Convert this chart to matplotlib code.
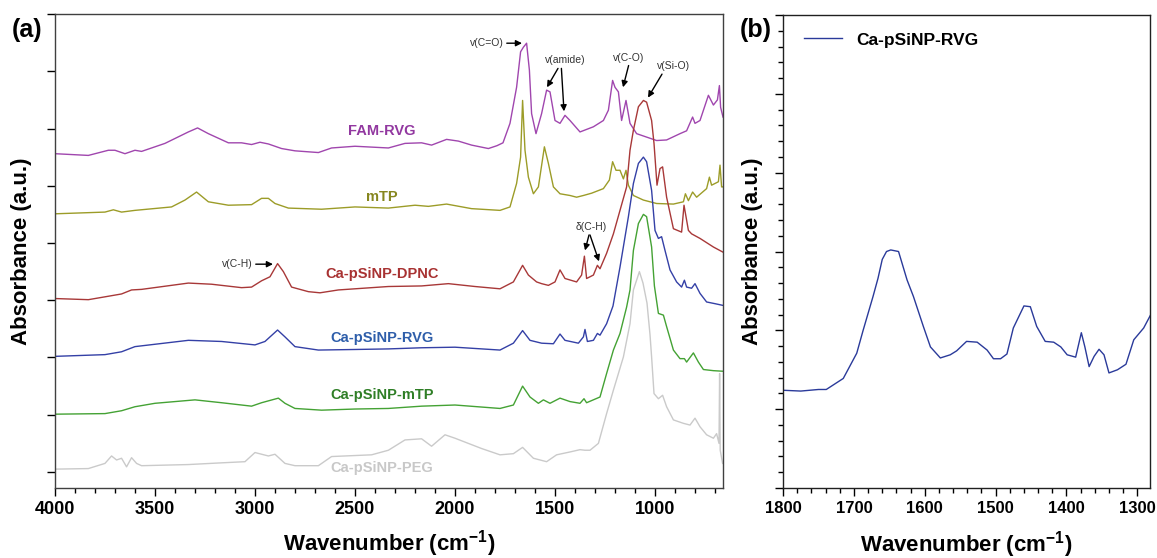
import matplotlib
matplotlib.use('Agg')
import matplotlib.pyplot as plt
from matplotlib.ticker import MultipleLocator, NullFormatter

plt.rcParams['font.family'] = ['Liberation Sans', 'DejaVu Sans']
plt.rcParams['mathtext.fontset'] = 'custom'
plt.rcParams['mathtext.rm'] = 'Liberation Sans'
plt.rcParams['mathtext.bf'] = 'Liberation Sans:bold'
plt.rcParams['mathtext.default'] = 'bf'

# --- data (a): FTIR spectra, stacked with offsets (a.u.) ---
fam_rvg_wn = [4000, 3833, 3733, 3700, 3650, 3600, 3567, 3450, 3333, 3287, 3233, 3133, 3067, 3017, 2975, 2933,
              2867, 2800, 2683, 2617, 2500, 2333, 2250, 2167, 2117, 2042, 1983, 1917, 1833, 1790, 1760, 1725,
              1692, 1672, 1658, 1642, 1628, 1617, 1595, 1567, 1542, 1525, 1500, 1475, 1450, 1425, 1375, 1308,
              1258, 1233, 1212, 1200, 1183, 1167, 1145, 1125, 1092, 1042, 992, 942, 875, 842, 812, 800, 775,
              733, 708, 688, 678, 672, 660]
fam_rvg_abs = [5.56, 5.53, 5.62, 5.62, 5.56, 5.62, 5.60, 5.74, 5.94, 6.01, 5.91, 5.75, 5.75, 5.72, 5.76, 5.73,
               5.65, 5.61, 5.58, 5.66, 5.69, 5.66, 5.74, 5.75, 5.71, 5.81, 5.78, 5.71, 5.65, 5.70, 5.75, 6.09,
               6.72, 7.34, 7.42, 7.49, 7.02, 6.26, 5.91, 6.26, 6.67, 6.64, 6.14, 6.09, 6.23, 6.14, 5.94, 6.03,
               6.14, 6.32, 6.84, 6.72, 6.64, 6.14, 6.49, 6.09, 5.91, 5.85, 5.79, 5.80, 5.91, 5.96, 6.20, 6.09, 6.14,
               6.58, 6.41, 6.50, 6.75, 6.37, 6.20]

mtp_wn = [4000, 3750, 3708, 3667, 3600, 3417, 3350, 3292, 3233, 3133, 3017, 2967, 2933, 2900, 2833, 2667,
          2500, 2333, 2200, 2133, 2042, 1917, 1775, 1725, 1692, 1672, 1662, 1650, 1633, 1608, 1583, 1553,
          1533, 1508, 1475, 1425, 1392, 1358, 1317, 1258, 1228, 1212, 1195, 1175, 1158, 1145, 1133, 1108,
          1058, 992, 908, 858, 848, 833, 812, 792, 742, 728, 717, 683, 675, 667, 660]
mtp_abs = [4.51, 4.54, 4.58, 4.54, 4.57, 4.63, 4.75, 4.89, 4.72, 4.66, 4.67, 4.78, 4.78, 4.69, 4.61, 4.59,
           4.63, 4.61, 4.66, 4.64, 4.68, 4.60, 4.57, 4.63, 5.04, 5.50, 6.49, 5.62, 5.15, 4.86, 4.98, 5.68,
           5.39, 4.98, 4.86, 4.83, 4.80, 4.83, 4.87, 4.95, 5.10, 5.42, 5.27, 5.27, 5.12, 5.27, 5.01, 4.83,
           4.75, 4.69, 4.68, 4.72, 4.86, 4.74, 4.89, 4.80, 4.95, 5.15, 5.01, 5.07, 5.36, 4.98, 4.98]

dpnc_wn = [4000, 3833, 3733, 3667, 3617, 3567, 3333, 3217, 3067, 3017, 2967, 2925, 2887, 2858, 2817, 2733,
           2675, 2583, 2333, 2167, 2033, 1900, 1775, 1708, 1662, 1633, 1592, 1567, 1533, 1500, 1475, 1450,
           1392, 1367, 1353, 1342, 1308, 1288, 1275, 1242, 1208, 1175, 1142, 1125, 1108, 1083, 1058, 1042,
           1017, 1005, 990, 975, 962, 942, 908, 867, 855, 833, 817, 775, 708, 660]
dpnc_abs = [3.03, 3.01, 3.07, 3.11, 3.18, 3.19, 3.30, 3.28, 3.22, 3.23, 3.34, 3.41, 3.64, 3.50, 3.23, 3.15,
            3.13, 3.18, 3.24, 3.25, 3.29, 3.24, 3.20, 3.32, 3.61, 3.44, 3.32, 3.29, 3.26, 3.32, 3.53, 3.38,
            3.32, 3.44, 3.77, 3.38, 3.44, 3.61, 3.55, 3.82, 4.16, 4.57, 4.98, 5.62, 5.97, 6.38, 6.49, 6.46,
            6.14, 5.74, 5.01, 5.30, 5.33, 4.80, 4.25, 4.19, 4.66, 4.22, 4.16, 4.08, 3.93, 3.84]

rvg_wn = [4000, 3750, 3667, 3600, 3333, 3167, 3000, 2950, 2887, 2850, 2800, 2683, 2500, 2333, 2167, 2000,
          1775, 1708, 1662, 1625, 1567, 1508, 1475, 1450, 1383, 1358, 1350, 1338, 1308, 1288, 1275, 1242,
          1210, 1175, 1133, 1108, 1083, 1058, 1042, 1017, 1000, 983, 967, 950, 925, 892, 867, 853, 842,
          817, 800, 775, 742, 700, 660]
rvg_abs = [2.02, 2.05, 2.10, 2.19, 2.30, 2.28, 2.22, 2.28, 2.48, 2.36, 2.19, 2.13, 2.14, 2.15, 2.17, 2.18,
           2.13, 2.25, 2.47, 2.30, 2.25, 2.24, 2.41, 2.30, 2.25, 2.36, 2.49, 2.28, 2.30, 2.42, 2.39, 2.59,
           2.90, 3.58, 4.46, 5.04, 5.39, 5.50, 5.42, 4.92, 4.22, 4.08, 4.11, 3.87, 3.53, 3.32, 3.23, 3.35, 3.23,
           3.21, 3.29, 3.12, 2.97, 2.94, 2.91]

cmtp_wn = [4000, 3750, 3667, 3600, 3500, 3300, 3167, 3017, 2967, 2883, 2850, 2800, 2667, 2500, 2333, 2167,
           2000, 1775, 1708, 1662, 1625, 1583, 1558, 1525, 1475, 1425, 1375, 1355, 1342, 1275, 1242, 1208,
           1175, 1142, 1125, 1108, 1083, 1058, 1042, 1017, 1003, 983, 958, 942, 908, 875, 853, 842, 808,
           783, 758, 708, 660]
cmtp_abs = [1.01, 1.02, 1.07, 1.14, 1.20, 1.26, 1.21, 1.15, 1.21, 1.29, 1.20, 1.11, 1.08, 1.10, 1.11, 1.15,
            1.17, 1.11, 1.17, 1.50, 1.31, 1.20, 1.26, 1.20, 1.29, 1.23, 1.20, 1.28, 1.21, 1.31, 1.72, 2.13,
            2.42, 2.88, 3.18, 3.87, 4.34, 4.50, 4.46, 3.93, 3.25, 2.77, 2.74, 2.54, 2.13, 1.98, 1.98, 1.92, 2.08,
            1.92, 1.79, 1.77, 1.76]

peg_wn = [4000, 3833, 3750, 3717, 3692, 3667, 3642, 3617, 3592, 3567, 3333, 3167, 3050, 3000, 2933, 2900,
          2850, 2800, 2683, 2617, 2417, 2333, 2250, 2167, 2117, 2050, 2000, 1867, 1775, 1708, 1662, 1608,
          1542, 1492, 1425, 1375, 1350, 1325, 1283, 1242, 1208, 1158, 1125, 1108, 1078, 1060, 1040, 1025,
          1017, 1005, 983, 962, 942, 908, 858, 825, 800, 775, 742, 708, 692, 680, 677, 674, 662]
peg_abs = [0.05, 0.06, 0.15, 0.28, 0.21, 0.24, 0.09, 0.25, 0.15, 0.11, 0.13, 0.16, 0.18, 0.34, 0.28, 0.31,
           0.15, 0.11, 0.11, 0.27, 0.30, 0.38, 0.56, 0.58, 0.45, 0.65, 0.59, 0.41, 0.30, 0.32, 0.43, 0.24,
           0.18, 0.30, 0.35, 0.39, 0.38, 0.38, 0.50, 1.02, 1.43, 2.01, 2.59, 3.18, 3.50, 3.30, 2.95, 2.40,
           2.01, 1.37, 1.28, 1.34, 1.14, 0.91, 0.85, 0.82, 0.94, 0.79, 0.65, 0.59, 0.67, 0.50, 1.72, 0.38, 0.15]

# --- data (b): Ca-pSiNP-RVG, 1800-1280 cm-1 ---
b_wn = [1800, 1775, 1750, 1739, 1715, 1696, 1687, 1673, 1666, 1660, 1654, 1648, 1637, 1625, 1616, 1602,
        1592, 1578, 1564, 1555, 1541, 1526, 1512, 1503, 1493, 1484, 1475, 1460, 1451, 1442, 1430, 1418,
        1408, 1399, 1387, 1379, 1374, 1368, 1361, 1354, 1347, 1340, 1328, 1316, 1305, 1291, 1281]
b_abs = [1.24, 1.23, 1.25, 1.25, 1.39, 1.71, 2.00, 2.43, 2.66, 2.90, 3.00, 3.02, 3.00, 2.64, 2.43, 2.05,
         1.79, 1.65, 1.69, 1.74, 1.86, 1.85, 1.75, 1.64, 1.64, 1.70, 2.03, 2.31, 2.30, 2.05, 1.86, 1.85,
         1.79, 1.69, 1.66, 1.97, 1.79, 1.54, 1.67, 1.76, 1.69, 1.46, 1.50, 1.57, 1.88, 2.03, 2.20]

fig = plt.figure(figsize=(11.57, 5.58), dpi=100)
ax_a = fig.add_axes([0.0475, 0.1254, 0.5774, 0.8495])
ax_b = fig.add_axes([0.6768, 0.1254, 0.3172, 0.8477])

lw = 1.0
ax_a.plot(fam_rvg_wn, fam_rvg_abs, color='#A046AE', lw=lw)
ax_a.plot(mtp_wn, mtp_abs, color='#9C9C28', lw=lw)
ax_a.plot(dpnc_wn, dpnc_abs, color='#A83838', lw=lw)
ax_a.plot(rvg_wn, rvg_abs, color='#3440A6', lw=lw)
ax_a.plot(cmtp_wn, cmtp_abs, color='#44A234', lw=lw)
ax_a.plot(peg_wn, peg_abs, color='#CACACA', lw=lw)

lab_x = 2365
ax_a.text(lab_x, 5.95, 'FAM-RVG', color='#9238A0', ha='center', va='center', fontsize=10.5, fontweight='bold')
ax_a.text(lab_x, 4.80, 'mTP', color='#86861E', ha='center', va='center', fontsize=10.5, fontweight='bold')
ax_a.text(lab_x, 3.46, 'Ca-pSiNP-DPNC', color='#A83232', ha='center', va='center', fontsize=10.5, fontweight='bold')
ax_a.text(lab_x, 2.34, 'Ca-pSiNP-RVG', color='#2E5EAA', ha='center', va='center', fontsize=10.5, fontweight='bold')
ax_a.text(lab_x, 1.34, 'Ca-pSiNP-mTP', color='#2F7E26', ha='center', va='center', fontsize=10.5, fontweight='bold')
ax_a.text(lab_x, 0.07, 'Ca-pSiNP-PEG', color='#C8C8C8', ha='center', va='center', fontsize=10.5, fontweight='bold')

arrow = dict(arrowstyle='-|>', color='black', lw=1.0, mutation_scale=9, shrinkA=0, shrinkB=0)
afs = 7.5
ax_a.annotate('v(C=O)', xy=(1665, 7.49), xytext=(1755, 7.49), ha='right', va='center',
              fontsize=afs, color='#333333', arrowprops=arrow)
ax_a.annotate('v(amide)', xy=(1540, 6.72), xytext=(1450, 7.19), ha='center', va='center',
              fontsize=afs, color='#333333')
ax_a.annotate('', xy=(1540, 6.72), xytext=(1485, 7.05), arrowprops=arrow)
ax_a.annotate('', xy=(1455, 6.30), xytext=(1468, 7.05), arrowprops=arrow)
ax_a.annotate('v(C-O)', xy=(1160, 6.72), xytext=(1130, 7.24), ha='center', va='center',
              fontsize=afs, color='#333333')
ax_a.annotate('', xy=(1160, 6.72), xytext=(1132, 7.10), arrowprops=arrow)
ax_a.annotate('v(Si-O)', xy=(1035, 6.54), xytext=(905, 7.09), ha='center', va='center',
              fontsize=afs, color='#333333')
ax_a.annotate('', xy=(1035, 6.54), xytext=(965, 6.95), arrowprops=arrow)
ax_a.annotate('\u03b4(C-H)', xy=(1350, 3.87), xytext=(1320, 4.28), ha='center', va='center',
              fontsize=afs, color='#333333')
ax_a.annotate('', xy=(1350, 3.87), xytext=(1330, 4.14), arrowprops=arrow)
ax_a.annotate('', xy=(1280, 3.68), xytext=(1325, 4.14), arrowprops=arrow)
ax_a.annotate('v(C-H)', xy=(2910, 3.63), xytext=(3010, 3.63), ha='right', va='center',
              fontsize=afs, color='#333333', arrowprops=arrow)

ax_a.set_xlim(4000, 660)
ax_a.set_ylim(-0.28, 8)
ax_a.xaxis.set_major_locator(MultipleLocator(500))
ax_a.xaxis.set_minor_locator(MultipleLocator(100))
ax_a.yaxis.set_major_locator(MultipleLocator(1))
ax_a.yaxis.set_major_formatter(NullFormatter())
ax_a.tick_params(axis='both', which='major', direction='out', length=5.5, width=1, labelsize=13)
ax_a.tick_params(axis='x', which='minor', direction='out', length=3.5, width=1)
for lbl in ax_a.get_xticklabels():
    lbl.set_fontweight('bold')
for s in ax_a.spines.values():
    s.set_color('#404040')
    s.set_linewidth(1.0)
ax_a.set_xlabel('Wavenumber (cm$^{-1}$)', fontsize=16, fontweight='bold')
ax_a.set_ylabel('Absorbance (a.u.)', fontsize=16, fontweight='bold')
ax_a.xaxis.set_label_coords(0.5, -0.084)
ax_a.yaxis.set_label_coords(-0.034, 0.5)

ax_b.plot(b_wn, b_abs, color='#2A3A9A', lw=lw, label='Ca-pSiNP-RVG')
ax_b.set_xlim(1800, 1282)
ax_b.set_ylim(0, 6)
ax_b.xaxis.set_major_locator(MultipleLocator(100))
ax_b.xaxis.set_minor_locator(MultipleLocator(20))
ax_b.yaxis.set_major_locator(MultipleLocator(1))
ax_b.yaxis.set_minor_locator(MultipleLocator(0.2))
ax_b.yaxis.set_major_formatter(NullFormatter())
ax_b.tick_params(axis='both', which='major', direction='out', length=5.5, width=1, labelsize=12)
ax_b.tick_params(axis='both', which='minor', direction='out', length=3.5, width=1)
for lbl in ax_b.get_xticklabels():
    lbl.set_fontweight('bold')
for s in ax_b.spines.values():
    s.set_color('#202020')
    s.set_linewidth(1.0)
ax_b.set_xlabel('Wavenumber (cm$^{-1}$)', fontsize=16, fontweight='bold')
ax_b.set_ylabel('Absorbance (a.u.)', fontsize=16, fontweight='bold')
ax_b.xaxis.set_label_coords(0.5, -0.086)
ax_b.yaxis.set_label_coords(-0.054, 0.5)
leg = ax_b.legend(loc='upper left', frameon=False, handlelength=2.2,
                  prop={'weight': 'bold', 'size': 12.5}, bbox_to_anchor=(0.01, 1.0), borderaxespad=0.6)

fig.text(12 / 1157, 1 - 30 / 558, '(a)', fontsize=18, fontweight='bold', va='center', ha='left')
fig.text(740 / 1157, 1 - 30 / 558, '(b)', fontsize=18, fontweight='bold', va='center', ha='left')

plt.savefig('out.png', dpi=100, facecolor='white')
